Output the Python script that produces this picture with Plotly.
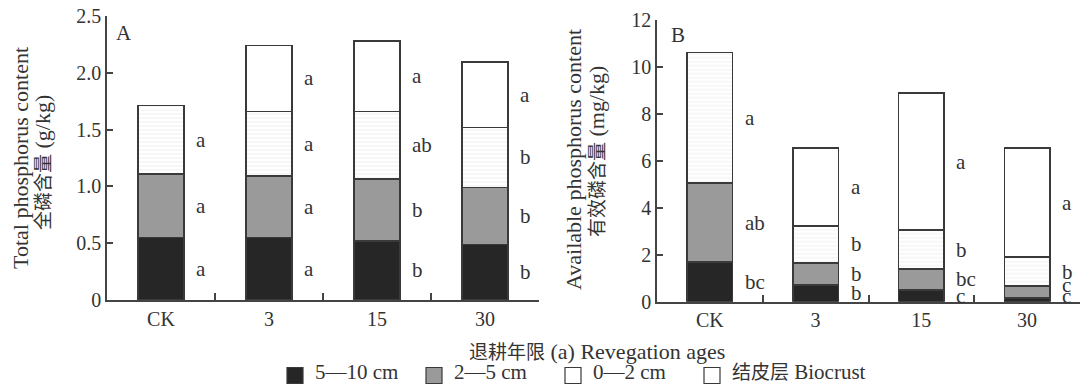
import plotly.graph_objects as go
from plotly.subplots import make_subplots

categories = ["CK", "3", "15", "30"]
layer_names = ["5—10 cm", "2—5 cm", "0—2 cm", "结皮层 Biocrust"]

# Panel A: total phosphorus content (g/kg), height of each stacked layer
tp_5_10 = [0.55, 0.55, 0.52, 0.49]
tp_2_5 = [0.56, 0.54, 0.545, 0.50]
tp_0_2 = [0.60, 0.57, 0.595, 0.53]
tp_crust = [0, 0.58, 0.62, 0.575]
tp_let_5_10 = ["a", "a", "b", "b"]
tp_let_2_5 = ["a", "a", "b", "b"]
tp_let_0_2 = ["a", "a", "ab", "b"]
tp_let_crust = ["", "a", "a", "a"]

# Panel B: available phosphorus content (mg/kg)
ap_5_10 = [1.69, 0.71, 0.50, 0.16]
ap_2_5 = [3.36, 0.94, 0.89, 0.51]
ap_0_2 = [5.56, 1.57, 1.66, 1.23]
ap_crust = [0, 3.32, 5.83, 4.64]
ap_let_5_10 = ["bc", "b", "c", "c"]
ap_let_2_5 = ["ab", "b", "bc", "c"]
ap_let_0_2 = ["a", "b", "b", "b"]
ap_let_crust = ["", "a", "a", "a"]

tp_ticks = [0, 0.5, 1.0, 1.5, 2.0, 2.5]
tp_ticktext = ["0", "0.5", "1.0", "1.5", "2.0", "2.5"]
ap_ticks = [0, 2, 4, 6, 8, 10, 12]

SERIF = "Liberation Serif, Times New Roman, Noto Sans CJK SC, serif"
INK = "#333333"
fills = ["#262626", "#9a9a9a", "#ffffff", "#ffffff"]
W, H = 1082, 390


def fy(py):
    """pixel row (from top) -> paper fraction"""
    return (H - py) / H


def sized(s, size):
    return f'<span style="font-size:{size}px">{s}</span>'


fig = make_subplots(rows=1, cols=2)

panels = [
    (1, [tp_5_10, tp_2_5, tp_0_2, tp_crust],
     [tp_let_5_10, tp_let_2_5, tp_let_0_2, tp_let_crust], 0.10, 0.0),
    (2, [ap_5_10, ap_2_5, ap_0_2, ap_crust],
     [ap_let_5_10, ap_let_2_5, ap_let_0_2, ap_let_crust], 0.48, 0.25),
]

for col, series, letters, gap, floor in panels:
    for k, vals in enumerate(series):
        marker = dict(color=fills[k], line=dict(color="#3a3a3a", width=1.5))
        if k == 2:
            marker["pattern"] = dict(shape="-", fgcolor="#dedede", bgcolor="#ffffff",
                                     size=4, solidity=0.25)
        fig.add_trace(go.Bar(x=categories, y=vals, name=layer_names[k], marker=marker,
                             showlegend=False), row=1, col=col)
    xref = "x" if col == 1 else "x2"
    yref = "y" if col == 1 else "y2"
    for i in range(len(categories)):
        base = 0.0
        prev = -1e9
        for k, vals in enumerate(series):
            v = vals[i]
            if v > 0 and letters[k][i]:
                mid = base + v / 2
                ypos = max(mid, prev + gap, floor)
                prev = ypos
                fig.add_annotation(x=i, y=ypos, xref=xref, yref=yref, text=letters[k][i],
                                   showarrow=False, xanchor="left", yanchor="middle",
                                   xshift=33, font=dict(family=SERIF, size=21, color=INK))
            base += v

# legend entries (text drawn at 21px inside a compact legend row)
legend_labels = [sized("5—10 cm", 21), sized("2—5 cm", 21), sized("0—2 cm", 21),
                 sized("结皮层", 19) + sized(" Biocrust", 21)]
for k in range(4):
    fig.add_trace(go.Scatter(x=[None], y=[None], mode="markers", name=legend_labels[k],
                             marker=dict(symbol="square", size=16, color=fills[k],
                                         line=dict(color="#3a3a3a", width=1.2))))
# spacer entry so that the last legend label is not clipped
fig.add_trace(go.Scatter(x=[None], y=[None], mode="markers", name=" ",
                         marker=dict(symbol="square", size=1, color="rgba(0,0,0,0)",
                                     line=dict(width=0))))

axis_common = dict(showline=True, linecolor="#444444", linewidth=1.5, mirror=False,
                   showgrid=False, zeroline=False, automargin=False,
                   tickfont=dict(family=SERIF, size=20, color=INK))

fig.update_xaxes(**axis_common, type="category", tickson="boundaries", ticks="inside",
                 ticklen=7, tickwidth=1.5, tickcolor="#444444", range=[-0.5, 3.5])
fig.update_yaxes(**axis_common, ticks="inside", ticklen=6, tickwidth=1.5,
                 tickcolor="#444444")

fig.update_xaxes(domain=[107 / W, 539 / W], row=1, col=1)
fig.update_xaxes(domain=[657 / W, 1080 / W], row=1, col=2)
fig.update_yaxes(domain=[fy(300), fy(16)], range=[0, 2.5], tickvals=tp_ticks,
                 ticktext=tp_ticktext, row=1, col=1)
fig.update_yaxes(domain=[fy(301.7), fy(19.7)], range=[0, 12], tickvals=ap_ticks,
                 row=1, col=2)


def text_at(px, py, text, size=21, angle=0):
    fig.add_annotation(x=px / W, y=fy(py), xref="paper", yref="paper", text=text,
                       showarrow=False, xanchor="center", yanchor="middle", textangle=angle,
                       font=dict(family=SERIF, size=size, color=INK))


# panel letters
text_at(124, 33, "A")
text_at(678, 35, "B")

# y axis titles (two lines each)
text_at(20, 158, "Total phosphorus content", size=22, angle=-90)
text_at(43, 163, sized("全磷含量", 19) + " (g/kg)", size=22, angle=-90)
text_at(573, 160, "Available phosphorus content", size=22, angle=-90)
text_at(597, 152, sized("有效磷含量", 19) + " (mg/kg)", size=22, angle=-90)

# x axis title
text_at(597, 351, sized("退耕年限", 19) + " (a) Revegation ages", size=22)

fig.update_layout(
    width=W, height=H,
    margin=dict(l=0, r=0, t=0, b=0),
    paper_bgcolor="white", plot_bgcolor="white",
    barmode="stack", bargap=0.57,
    showlegend=True,
    legend=dict(orientation="h", x=275 / W, xanchor="left", y=0, yanchor="bottom",
                font=dict(family=SERIF, size=9, color=INK), itemsizing="trace",
                traceorder="normal", entrywidth=94, entrywidthmode="pixels",
                bgcolor="rgba(0,0,0,0)"),
)

fig.write_html("out.html", config={"displayModeBar": False},
               post_script="document.body.style.margin='0';")
